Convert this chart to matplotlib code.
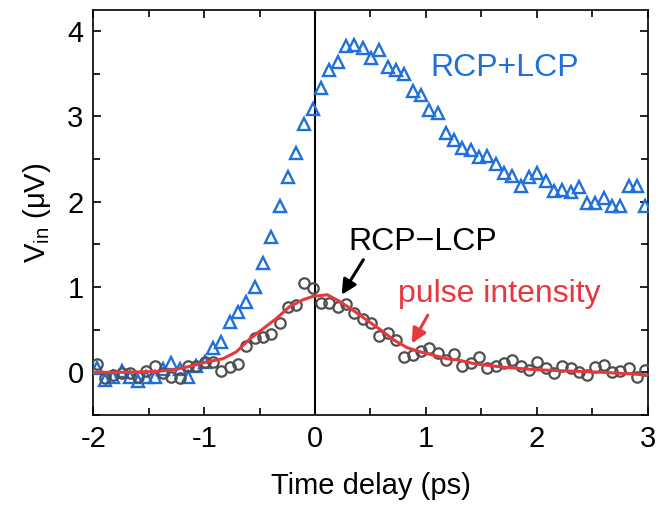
import matplotlib
matplotlib.use("Agg")
import matplotlib.pyplot as plt
from matplotlib.ticker import MultipleLocator

plt.rcParams["font.family"] = ["Liberation Sans", "DejaVu Sans"]
plt.rcParams["mathtext.fontset"] = "custom"
plt.rcParams["mathtext.rm"] = "Liberation Sans"
plt.rcParams["axes.unicode_minus"] = False

BLUE = "#1f6fdc"
GRAY = "#505050"
RED = "#e8383d"

# time delay grid (ps)
delay = [-1.97, -1.895, -1.82, -1.745, -1.67, -1.595, -1.52, -1.445, -1.37, -1.295,
         -1.22, -1.145, -1.07, -0.995, -0.92, -0.845, -0.77, -0.695, -0.62, -0.545,
         -0.47, -0.395, -0.32, -0.245, -0.17, -0.095, -0.02, 0.055, 0.13, 0.205,
         0.28, 0.355, 0.43, 0.505, 0.58, 0.655, 0.73, 0.805, 0.88, 0.955,
         1.03, 1.105, 1.18, 1.255, 1.33, 1.405, 1.48, 1.555, 1.63, 1.705,
         1.78, 1.855, 1.93, 2.005, 2.08, 2.155, 2.23, 2.305, 2.38, 2.455,
         2.53, 2.605, 2.68, 2.755, 2.83, 2.905, 2.98]

# RCP+LCP (uV)
sum_signal = [0.05, -0.09, -0.05, 0.01, -0.06, -0.10, -0.05, -0.05, 0.04, 0.11,
              0.04, -0.05, 0.07, 0.12, 0.28, 0.36, 0.59, 0.71, 0.83, 1.00,
              1.28, 1.59, 1.95, 2.29, 2.57, 2.91, 3.09, 3.33, 3.55, 3.64,
              3.83, 3.84, 3.80, 3.68, 3.78, 3.58, 3.54, 3.50, 3.30, 3.25,
              3.08, 3.04, 2.81, 2.72, 2.63, 2.61, 2.53, 2.54, 2.44, 2.34,
              2.30, 2.18, 2.29, 2.34, 2.24, 2.13, 2.14, 2.12, 2.17, 1.98,
              1.98, 2.05, 1.95, 1.95, 2.18, 2.18, 1.95]

# RCP-LCP (uV)
diff_signal = [0.10, -0.07, -0.03, -0.01, -0.01, -0.05, 0.02, 0.07, -0.01, -0.05,
               -0.07, 0.07, 0.07, 0.12, 0.12, 0.02, 0.06, 0.10, 0.31, 0.40,
               0.42, 0.45, 0.58, 0.77, 0.79, 1.05, 0.99, 0.81, 0.81, 0.77,
               0.80, 0.69, 0.62, 0.58, 0.43, 0.46, 0.38, 0.18, 0.20, 0.25,
               0.28, 0.23, 0.15, 0.22, 0.07, 0.11, 0.18, 0.05, 0.07, 0.11,
               0.15, 0.07, 0.03, 0.12, 0.05, -0.01, 0.07, 0.05, 0.00, -0.03,
               0.06, 0.09, 0.00, 0.02, 0.05, -0.05, 0.03]

# pulse intensity curve
pulse_t = [-2.0, -1.73, -1.43, -1.28, -1.13, -0.98, -0.83, -0.71, -0.59, -0.47,
           -0.35, -0.23, -0.11, -0.02, 0.11, 0.21, 0.33, 0.47, 0.59, 0.71,
           0.83, 0.95, 1.07, 1.19, 1.31, 1.44, 1.70, 2.0, 2.30, 2.60, 3.0]
pulse_v = [0.0, 0.0, 0.01, 0.03, 0.07, 0.12, 0.16, 0.24, 0.39, 0.51,
           0.63, 0.77, 0.85, 0.89, 0.91, 0.84, 0.74, 0.61, 0.50, 0.38,
           0.29, 0.24, 0.20, 0.16, 0.14, 0.10, 0.06, 0.03, 0.015, 0.0, -0.03]

fig = plt.figure(figsize=(6.56, 5.07), dpi=100)
ax = fig.add_axes([0.1422, 0.1815, 0.845, 0.799])

ax.axvline(0, color="black", lw=1.5, zorder=1)
ax.plot(delay, sum_signal, ls="none", marker="^", ms=8.2, mfc="none",
        mec=BLUE, mew=1.7, zorder=3)
ax.plot(delay, diff_signal, ls="none", marker="o", ms=7.5, mfc="none",
        mec=GRAY, mew=1.6, zorder=3)
ax.plot(pulse_t, pulse_v, color=RED, lw=2.2, zorder=4)

ax.text(1.038, 3.48, "RCP+LCP", color=BLUE, fontsize=23)
ax.text(0.298, 1.43, "RCP\u2212LCP", color="black", fontsize=23)
ax.text(0.749, 0.83, "pulse intensity", color=RED, fontsize=23)
ax.annotate("", xy=(0.24, 0.91), xytext=(0.436, 1.32),
            arrowprops=dict(arrowstyle="-|>", color="black", lw=2.2,
                            mutation_scale=22, shrinkA=0, shrinkB=0))
ax.annotate("", xy=(0.873, 0.34), xytext=(1.017, 0.67),
            arrowprops=dict(arrowstyle="-|>", color=RED, lw=2.2,
                            mutation_scale=22, shrinkA=0, shrinkB=0))

ax.set_xlim(-2, 3)
ax.set_ylim(-0.5, 4.25)
ax.xaxis.set_major_locator(MultipleLocator(1))
ax.xaxis.set_minor_locator(MultipleLocator(0.5))
ax.yaxis.set_major_locator(MultipleLocator(1))
ax.yaxis.set_minor_locator(MultipleLocator(0.5))
ax.tick_params(which="both", direction="in", top=True, right=True,
               labelsize=21, width=1.2)
ax.tick_params(which="major", length=6, pad=7)
ax.tick_params(which="minor", length=5)
for s in ax.spines.values():
    s.set_linewidth(1.2)

ax.set_xlabel("Time delay (ps)", fontsize=21, labelpad=14)
ax.set_ylabel(r"$\mathregular{V_{in}}$ ($\mathregular{\mu}$V)", fontsize=21, labelpad=10)

fig.savefig("out.png", dpi=100)
